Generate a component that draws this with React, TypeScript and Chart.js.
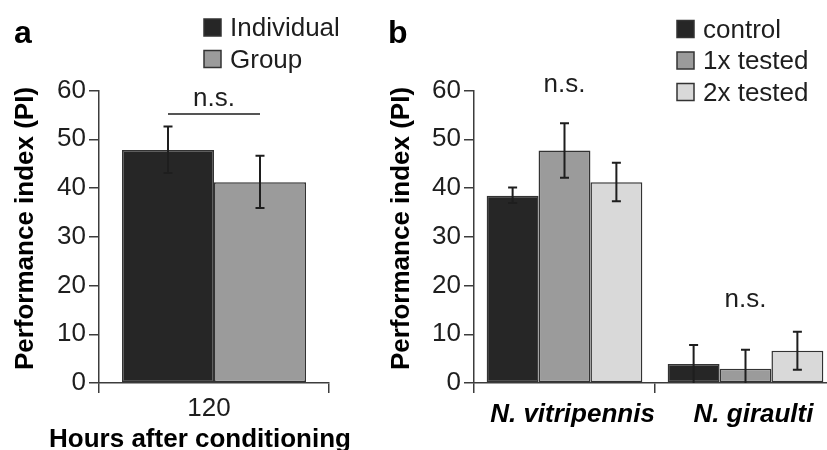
import { useEffect, useRef } from "react";
import { Chart, registerables } from "chart.js";
Chart.register(...registerables);

// ---------- Data ----------
const panelACategories = ["120"];
const individualValues = [47.8];
const individualUpper = [52.6];
const individualLower = [43.1];
const groupValues = [41.2];
const groupUpper = [46.6];
const groupLower = [35.9];

const panelBCategories = ["N. vitripennis", "N. giraulti"];
const controlValues = [38.4, 3.9];
const controlUpper = [40.1, 7.8];
const controlLower = [36.9, 0.0];
const oneXValues = [47.7, 2.9];
const oneXUpper = [53.3, 6.8];
const oneXLower = [42.1, -1.0];
const twoXValues = [41.2, 6.6];
const twoXUpper = [45.2, 10.5];
const twoXLower = [37.3, 2.7];

const yMin = 0;
const yMax = 60;
const yStep = 10;

const yTitle = "Performance index (PI)";
const xTitleA = "Hours after conditioning";

const nsBracketA = 55.2; // value level of the n.s. bracket in panel a
const nsTextA = 58.2;
const nsTextB = [61.2, 17.0]; // n.s. label level per category in panel b

// ---------- Styles ----------
const FONT = "'Liberation Sans', Arial, Helvetica, sans-serif";
const TEXT = "#1e1e1e";
const AXIS = "#3c3c3c";
const DARK = "#262626";
const MID = "#9b9b9b";
const LIGHT = "#d9d9d9";
const EDGE = "#333333";

const decorPlugin = {
  id: "panelDecor",
  afterDatasetsDraw(chart: any) {
    const ctx = chart.ctx;
    const y = chart.scales.y;
    const area = chart.chartArea;
    // error bars
    chart.data.datasets.forEach((ds: any, i: number) => {
      const meta = chart.getDatasetMeta(i);
      meta.data.forEach((el: any, j: number) => {
        const x = el.x;
        const up = y.getPixelForValue(ds.errUpper[j]);
        const lo = y.getPixelForValue(ds.errLower[j]);
        const top = Math.max(up, area.top);
        const bot = Math.min(lo, area.bottom);
        ctx.save();
        ctx.strokeStyle = "#1e1e1e";
        ctx.lineWidth = 2;
        ctx.beginPath();
        ctx.moveTo(x, top);
        ctx.lineTo(x, bot);
        if (up >= area.top) {
          ctx.moveTo(x - 4.5, up);
          ctx.lineTo(x + 4.5, up);
        }
        if (lo <= area.bottom - 1) {
          ctx.moveTo(x - 4.5, lo);
          ctx.lineTo(x + 4.5, lo);
        }
        ctx.stroke();
        ctx.restore();
      });
    });
  },
  afterDraw(chart: any, _args: any, opts: any) {
    const ctx = chart.ctx;
    const y = chart.scales.y;
    const x = chart.scales.x;
    ctx.save();
    // panel letter
    ctx.fillStyle = "#000";
    ctx.font = `bold 32px ${FONT}`;
    ctx.textAlign = "left";
    ctx.textBaseline = "alphabetic";
    ctx.fillText(opts.letter, opts.letterX, 43);

    // y axis title (rotated)
    ctx.save();
    ctx.translate(opts.yTitleX, opts.yTitleY);
    ctx.rotate(-Math.PI / 2);
    ctx.font = `bold 26px ${FONT}`;
    ctx.textAlign = "center";
    ctx.textBaseline = "alphabetic";
    ctx.fillStyle = "#000";
    ctx.fillText(yTitle, 0, 0);
    ctx.restore();

    // x axis title
    if (opts.xTitle) {
      ctx.font = `bold 26px ${FONT}`;
      ctx.textAlign = "center";
      ctx.textBaseline = "alphabetic";
      ctx.fillStyle = "#000";
      ctx.fillText(opts.xTitle, opts.xTitleX, opts.xTitleY);
    }

    // legend
    chart.data.datasets.forEach((ds: any, i: number) => {
      const top = opts.legendTop + i * 31.5;
      ctx.fillStyle = ds.backgroundColor;
      ctx.fillRect(opts.legendX, top, 17, 17);
      ctx.strokeStyle = EDGE;
      ctx.lineWidth = 1.5;
      ctx.strokeRect(opts.legendX, top, 17, 17);
      ctx.fillStyle = TEXT;
      ctx.font = `26px ${FONT}`;
      ctx.textBaseline = "alphabetic";
      ctx.textAlign = "left";
      ctx.fillText(ds.label, opts.legendX + 26, top + 17);
    });

    // n.s. annotations
    ctx.fillStyle = TEXT;
    ctx.font = `26px ${FONT}`;
    ctx.textAlign = "center";
    ctx.textBaseline = "middle";
    if (opts.bracket) {
      const m0 = chart.getDatasetMeta(0).data[0];
      const m1 = chart.getDatasetMeta(1).data[0];
      const by = y.getPixelForValue(opts.bracket.level);
      ctx.strokeStyle = "#555";
      ctx.lineWidth = 2;
      ctx.beginPath();
      ctx.moveTo(m0.x, by);
      ctx.lineTo(m1.x, by);
      ctx.stroke();
      ctx.fillText("n.s.", (m0.x + m1.x) / 2, y.getPixelForValue(opts.bracket.text));
    }
    if (opts.nsLevels) {
      opts.nsLevels.forEach((lv: number, j: number) => {
        ctx.fillText("n.s.", x.getPixelForValue(j), y.getPixelForValue(lv));
      });
    }
    ctx.restore();
  },
};

function yAxis() {
  return {
    min: yMin,
    max: yMax,
    afterFit: (s: any) => {
      s.width = 99;
    },
    ticks: {
      stepSize: yStep,
      color: TEXT,
      padding: 3,
      font: { family: FONT, size: 26 },
    },
    grid: {
      drawOnChartArea: false,
      drawTicks: true,
      tickLength: 10,
      color: AXIS,
      lineWidth: 1.5,
    },
    border: { display: true, color: AXIS, width: 1.5 },
  };
}

function xGrid() {
  return {
    offset: true,
    drawOnChartArea: false,
    drawTicks: true,
    tickLength: 10,
    color: AXIS,
    lineWidth: 1.5,
  };
}

function makeChart(canvas: HTMLCanvasElement, cfg: any) {
  return new Chart(canvas, cfg);
}

export default function App() {
  const refA = useRef<HTMLCanvasElement>(null);
  const refB = useRef<HTMLCanvasElement>(null);

  useEffect(() => {
    const a = makeChart(refA.current!, {
      type: "bar",
      data: {
        labels: panelACategories,
        datasets: [
          {
            label: "Individual",
            data: individualValues,
            errUpper: individualUpper,
            errLower: individualLower,
            backgroundColor: DARK,
            borderColor: EDGE,
            borderWidth: 1.5,
            borderSkipped: false,
          },
          {
            label: "Group",
            data: groupValues,
            errUpper: groupUpper,
            errLower: groupLower,
            backgroundColor: MID,
            borderColor: EDGE,
            borderWidth: 1.5,
            borderSkipped: false,
          },
        ],
      },
      options: {
        responsive: false,
        animation: false,
        events: [],
        categoryPercentage: 0.8,
        barPercentage: 1.0,
        layout: { padding: { top: 90.5, right: 51, left: 0, bottom: 0 } },
        plugins: {
          legend: { display: false },
          tooltip: { enabled: false },
          panelDecor: {
            letter: "a",
            letterX: 14,
            legendX: 204,
            legendTop: 19,
            yTitleX: 33,
            yTitleY: 228.5,
            xTitle: xTitleA,
            xTitleX: 200,
            xTitleY: 447,
            bracket: { level: nsBracketA, text: nsTextA },
          },
        },
        scales: {
          x: {
            afterFit: (s: any) => {
              s.height = 67;
            },
            ticks: {
              color: TEXT,
              padding: 0,
              labelOffset: -5,
              font: { family: FONT, size: 26 },
            },
            grid: xGrid(),
            border: { display: true, color: AXIS, width: 1.5 },
          },
          y: yAxis(),
        },
      },
      plugins: [decorPlugin],
    });

    const b = makeChart(refB.current!, {
      type: "bar",
      data: {
        labels: panelBCategories,
        datasets: [
          {
            label: "control",
            data: controlValues,
            errUpper: controlUpper,
            errLower: controlLower,
            backgroundColor: DARK,
            borderColor: EDGE,
            borderWidth: 1.5,
            borderSkipped: false,
          },
          {
            label: "1x tested",
            data: oneXValues,
            errUpper: oneXUpper,
            errLower: oneXLower,
            backgroundColor: MID,
            borderColor: EDGE,
            borderWidth: 1.5,
            borderSkipped: false,
          },
          {
            label: "2x tested",
            data: twoXValues,
            errUpper: twoXUpper,
            errLower: twoXLower,
            backgroundColor: LIGHT,
            borderColor: EDGE,
            borderWidth: 1.5,
            borderSkipped: false,
          },
        ],
      },
      options: {
        responsive: false,
        animation: false,
        events: [],
        categoryPercentage: 0.86,
        barPercentage: 1.0,
        layout: { padding: { top: 90.5, right: 9, left: 0, bottom: 0 } },
        plugins: {
          legend: { display: false },
          tooltip: { enabled: false },
          panelDecor: {
            letter: "b",
            letterX: 13,
            legendX: 302,
            legendTop: 20.5,
            yTitleX: 34,
            yTitleY: 228.5,
            nsLevels: nsTextB,
          },
        },
        scales: {
          x: {
            afterFit: (s: any) => {
              s.height = 67;
            },
            ticks: {
              color: "#000",
              padding: 6,
              labelOffset: 8,
              font: { family: FONT, size: 26, weight: "bold", style: "italic" },
            },
            grid: xGrid(),
            border: { display: true, color: AXIS, width: 1.5 },
          },
          y: yAxis(),
        },
      },
      plugins: [decorPlugin],
    });

    return () => {
      a.destroy();
      b.destroy();
    };
  }, []);

  return (
    <div
      style={{
        position: "fixed",
        left: 0,
        top: 0,
        width: 827,
        height: 450,
        overflow: "hidden",
        background: "#fff",
      }}
    >
      <canvas
        ref={refA}
        width={380}
        height={450}
        style={{ position: "absolute", left: 0, top: 0, width: 380, height: 450 }}
      />
      <canvas
        ref={refB}
        width={470}
        height={450}
        style={{ position: "absolute", left: 375, top: 0, width: 470, height: 450 }}
      />
    </div>
  );
}
